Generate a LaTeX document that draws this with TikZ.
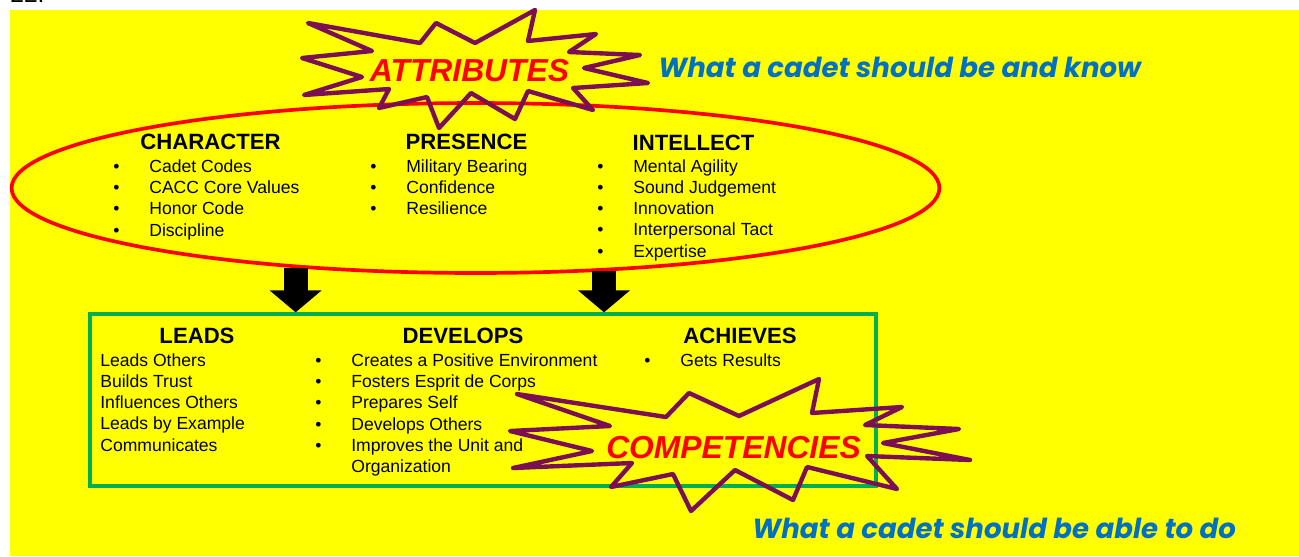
\documentclass[tikz,border=0pt]{standalone}
\usepackage{fontspec}
\setmainfont{Liberation Sans}
\newfontfamily\lemafont{Poppins}
\usepackage{tikz}
\usetikzlibrary{shapes.geometric, arrows.meta, positioning}

\definecolor{amarillo}{RGB}{255,255,0}
\definecolor{verde}{HTML}{00B050}
\definecolor{morado}{RGB}{122,16,82}
\definecolor{azul}{HTML}{0070C0}

% viñeta colgada a la izquierda del texto
\newcommand{\bul}{\llap{\textbullet\hspace{17pt}}}

\begin{document}
\begin{tikzpicture}[x=0.02cm, y=-0.02cm,
    titulo/.style={anchor=base, inner sep=0, font=\fontsize{12.6}{15}\selectfont\bfseries},
    lista/.style={anchor=base west, inner sep=0, align=left, font=\fontsize{10}{12.08}\selectfont},
    estrella/.style={draw=morado, line width=2.5pt, line join=round},
    grito/.style={anchor=base, inner sep=0, text=red, font=\fontsize{18.1}{20}\selectfont\bfseries\itshape},
    lema/.style={anchor=base west, inner sep=0, text=azul, font=\lemafont\fontsize{15.7}{18}\selectfont\bfseries\itshape},
    flecha/.style={line width=13.6pt, -{Triangle[width=28.9pt, length=12.5pt]}}]

  % Fondo amarillo.
  \useasboundingbox (0,0) rectangle (1299,556);
  \fill[amarillo] (10,10) rectangle (1299,556);
  \node[anchor=base west, inner sep=0, font=\fontsize{14}{16}\selectfont] (num) at (10,2) {22.};

  % Elipse de los atributos (las listas van por la base de su última línea).
  \node[ellipse, draw=red, line width=2.1pt, minimum width=18.56cm,
        minimum height=3.4cm, inner sep=0] (attr) at (475.5,188) {};

  \node[titulo] (character) at (210.5,149) {CHARACTER};
  \node[lista] (characterlist) at (149,236)
    {\bul Cadet Codes\\ \bul CACC Core Values\\ \bul Honor Code\\ \bul Discipline};
  \node[titulo] (presence) at (466.5,149) {PRESENCE};
  \node[lista] (presencelist) at (406,214.6)
    {\bul Military Bearing\\ \bul Confidence\\ \bul Resilience};
  \node[titulo] (intellect) at (693.5,150) {INTELLECT};
  \node[lista] (intellectlist) at (633,257.2)
    {\bul Mental Agility\\ \bul Sound Judgement\\ \bul Innovation\\
     \bul Interpersonal Tact\\ \bul Expertise};

  % Caja de las competencias.
  \node[rectangle, draw=verde, line width=1.9pt, minimum width=15.72cm,
        minimum height=3.44cm, inner sep=0] (comp) at (483,400) {};

  \node[titulo] (leads) at (197,343) {LEADS};
  \node[lista] (leadslist) at (100,451.2)
    {Leads Others\\ Builds Trust\\ Influences Others\\ Leads by Example\\ Communicates};
  \node[titulo] (develops) at (463,343) {DEVELOPS};
  \node[lista] (developslist) at (351,472.5)
    {\bul Creates a Positive Environment\\ \bul Fosters Esprit de Corps\\
     \bul Prepares Self\\ \bul Develops Others\\ \bul Improves the Unit and\\ Organization};
  \node[titulo] (achieves) at (740,343) {ACHIEVES};
  \node[lista] (achieveslist) at (680,366) {\bul Gets Results};

  % Flechas de la elipse a la caja.
  \draw[flecha] (attr.204) -- (attr.204 |- comp.north);
  \draw[flecha] (attr.327) -- (attr.327 |- comp.north);

  % Estrellas con los rótulos.
  \draw[estrella] (308,23) -- (420,43) -- (436,23) -- (475,43) -- (535,10)
    -- (528,41) -- (596,34) -- (569,52) -- (640,55) -- (584,68) -- (648,83)
    -- (573,88) -- (593,110) -- (528,91) -- (515,119) -- (471,93) -- (439,128)
    -- (427,97) -- (379,108) -- (389,89) -- (304,95) -- (362,77) -- (302,58)
    -- (372,51) -- cycle;
  \node[grito] (attributes) at (469.5,81) {ATTRIBUTES};

  \draw[estrella] (517,394) -- (666,417) -- (689,393) -- (739,416) -- (819,379)
    -- (812,413) -- (902,407) -- (865,425) -- (959,429) -- (883,443) -- (970,460)
    -- (867,456) -- (897,489) -- (807,467) -- (793,500) -- (735,470) -- (691,511)
    -- (673,474) -- (611,487) -- (632,463) -- (513,468) -- (592,451) -- (510,431)
    -- (610,426) -- cycle;
  \node[grito] (competencies) at (733.5,458) {COMPETENCIES};

  % Lemas en azul.
  \node[lema] (lemaattr) at (658,77) {What a cadet should be and know};
  \node[lema] (lemacomp) at (752,538) {What a cadet should be able to do};

\end{tikzpicture}
\end{document}
